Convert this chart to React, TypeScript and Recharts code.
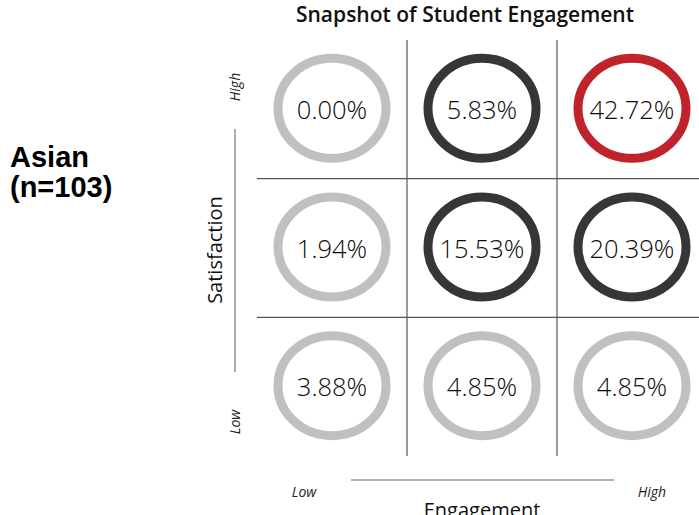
import React from 'react';
import { ScatterChart, Scatter, XAxis, YAxis, ReferenceLine } from 'recharts';

const engagementLevels = ['Low', 'Medium', 'High'];
const satisfactionLevels = ['Low', 'Medium', 'High'];
// rows: satisfaction High -> Low, columns: engagement Low -> High
const valuesHigh = [0.0, 5.83, 42.72];
const valuesMid = [1.94, 15.53, 20.39];
const valuesLow = [3.88, 4.85, 4.85];
const tonesHigh = ['light', 'dark', 'accent'];
const tonesMid = ['light', 'dark', 'dark'];
const tonesLow = ['light', 'light', 'light'];

const toneColor: Record<string, string> = {
  light: '#c0c0c0',
  dark: '#363636',
  accent: '#c1232b',
};

const rows = [
  { sat: 2, values: valuesHigh, tones: tonesHigh },
  { sat: 1, values: valuesMid, tones: tonesMid },
  { sat: 0, values: valuesLow, tones: tonesLow },
];

const cells = rows.flatMap((r) =>
  r.values.map((v, i) => ({
    x: i + 0.5,
    y: r.sat + 0.5,
    engagement: engagementLevels[i],
    satisfaction: satisfactionLevels[r.sat],
    value: v,
    tone: r.tones[i],
  }))
);

const RingShape = (props: any) => {
  const { cx, cy, payload } = props;
  if (cx == null || cy == null) return null;
  return (
    <g>
      <ellipse cx={cx} cy={cy - 1} rx={54} ry={50} fill="none" stroke={toneColor[payload.tone]} strokeWidth={9} />
      <text
        x={cx}
        y={cy + 3}
        textAnchor="middle"
        dominantBaseline="middle"
        fontFamily="'Open Sans', sans-serif"
        fontWeight={300}
        fontSize={25.5}
        fill="#0a0a0a"
      >
        {payload.value.toFixed(2) + '%'}
      </text>
    </g>
  );
};

const font = "'Open Sans', sans-serif";

export default function App() {
  return (
    <div style={{ position: 'absolute', left: 0, top: 0, width: 699, height: 515, overflow: 'hidden', background: '#fff' }}>
      <ScatterChart width={707} height={515} margin={{ top: 40, right: 0, bottom: 59, left: 257 }}>
        <XAxis type="number" dataKey="x" domain={[0, 3]} hide />
        <YAxis type="number" dataKey="y" domain={[0, 3]} hide />
        <ReferenceLine x={1} stroke="#555" strokeWidth={1.2} />
        <ReferenceLine x={2} stroke="#555" strokeWidth={1.2} />
        <ReferenceLine y={1} stroke="#555" strokeWidth={1.2} />
        <ReferenceLine y={2} stroke="#555" strokeWidth={1.2} />
        <Scatter data={cells} shape={RingShape} isAnimationActive={false} />
      </ScatterChart>
      <svg width={699} height={515} style={{ position: 'absolute', left: 0, top: 0, pointerEvents: 'none' }}>
        <text x={465} y={22} textAnchor="middle" fontFamily={font} fontWeight={600} fontSize={21} fill="#111">
          Snapshot of Student Engagement
        </text>
        <text x={10} y={167} fontFamily="'Liberation Sans', Arial, sans-serif" fontWeight={700} fontSize={29} fill="#000">
          Asian
        </text>
        <text x={10} y={197} fontFamily="'Liberation Sans', Arial, sans-serif" fontWeight={700} fontSize={29} fill="#000">
          (n=103)
        </text>
        <text transform="translate(240,87) rotate(-90)" textAnchor="middle" fontFamily={font} fontStyle="italic" fontSize={14} fill="#222">
          High
        </text>
        <text transform="translate(240,422) rotate(-90)" textAnchor="middle" fontFamily={font} fontStyle="italic" fontSize={14} fill="#222">
          Low
        </text>
        <line x1={235} y1={129} x2={235} y2={372} stroke="#777" strokeWidth={1.2} />
        <text transform="translate(222,250) rotate(-90)" textAnchor="middle" fontFamily={font} fontSize={20} fill="#111">
          Satisfaction
        </text>
        <line x1={351} y1={480} x2={614} y2={480} stroke="#999" strokeWidth={1.5} />
        <text x={304} y={497} textAnchor="middle" fontFamily={font} fontStyle="italic" fontSize={14} fill="#222">
          Low
        </text>
        <text x={652} y={497} textAnchor="middle" fontFamily={font} fontStyle="italic" fontSize={14} fill="#222">
          High
        </text>
        <text x={482} y={517} textAnchor="middle" fontFamily={font} fontSize={20} fill="#111">
          Engagement
        </text>
      </svg>
    </div>
  );
}
